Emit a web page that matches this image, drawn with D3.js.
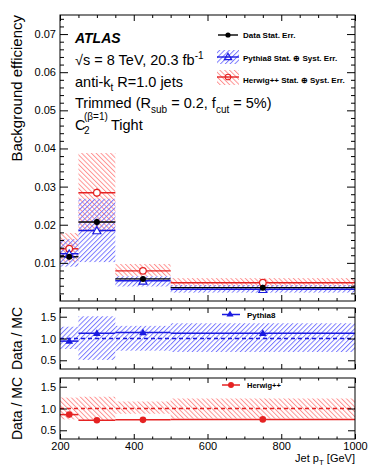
<!DOCTYPE html>
<meta charset="utf-8">
<script src="https://d3js.org/d3.v7.min.js"></script>
<style>
body { margin: 0; background: #fff; }
text { font-family: "Liberation Sans", Arial, Helvetica, sans-serif; fill: #000; }
.tick line { stroke: #000; }
</style>
<body>
<div id="canvas"></div>
<script>

// bins in jet pT [GeV]
var binLo = [200, 250, 350, 500];
var binHi = [250, 350, 500, 1000];
var binMid = [225, 300, 425, 750];

// background efficiency
var dataEff = [0.0116, 0.0207, 0.0058, 0.0035];
var dataErr = [0.0007, 0.0009, 0.0004, 0.0002];
var pythiaEff = [0.0124, 0.0185, 0.0053, 0.0031];
var pythiaStat = [0.0004, 0.0006, 0.0002, 0.0001];
var pythiaLo = [0.0090, 0.0102, 0.0038, 0.0022];
var pythiaHi = [0.0162, 0.0268, 0.0065, 0.0042];
var herwigEff = [0.0137, 0.0284, 0.0079, 0.0048];
var herwigStat = [0.0006, 0.0011, 0.0003, 0.0002];
var herwigLo = [0.0102, 0.0182, 0.0066, 0.0039];
var herwigHi = [0.0178, 0.0388, 0.0097, 0.0060];

// data / MC
var ratioPythia = [0.94, 1.12, 1.14, 1.12];
var ratioPythiaLo = [0.76, 0.51, 0.72, 0.69];
var ratioPythiaHi = [1.27, 1.51, 1.29, 1.35];
var ratioHerwig = [0.86, 0.73, 0.74, 0.75];
var ratioHerwigLo = [0.75, 0.73, 0.88, 0.77];
var ratioHerwigHi = [1.25, 1.27, 1.16, 1.23];

// tick values
var mainTicks = [0.01, 0.02, 0.03, 0.04, 0.05, 0.06, 0.07];
var ratioTicks = [0.5, 1, 1.5];
var xTicks = [200, 400, 600, 800, 1000];

var width = 374, height = 468;
var blue = "#1a1ae0", red = "#e52222";

var svg = d3.select('#canvas').append('svg')
    .attr('width', width).attr('height', height);

// hatch patterns
var defs = svg.append('defs');
function hatch(id, color, angle) {
  var p = defs.append('pattern').attr('id', id)
      .attr('patternUnits', 'userSpaceOnUse')
      .attr('width', 3.4).attr('height', 3.4)
      .attr('patternTransform', 'rotate(' + angle + ')');
  p.append('line').attr('x1', 0.5).attr('x2', 0.5).attr('y1', 0).attr('y2', 3.4)
      .attr('stroke', color).attr('stroke-width', 0.9);
}
hatch('hBlue', '#6d6dff', 45);
hatch('hRed', '#ff8888', -45);

var left = 60, right = 355;
var x = d3.scaleLinear().domain([200, 1000]).range([left, right]);
var yMain = d3.scaleLinear().domain([0, 0.075]).range([301, 15]);
var yR1 = d3.scaleLinear().domain([0.3, 1.7]).range([369, 308]);
var yR2 = d3.scaleLinear().domain([0.3, 1.7]).range([439, 378]);

var xMinor = d3.range(250, 1000, 50).filter(function(v) { return v % 200 != 0; });

// frame with inward ticks on all four sides
function frame(y, majors, minors, yMaj, xMaj, fontSize) {
  var g = svg.append('g');
  var top = y.range()[1], bot = y.range()[0];
  function add(axis, tx, ty, labels) {
    var a = g.append('g').attr('transform', 'translate(' + tx + ',' + ty + ')').call(axis);
    a.select('.domain').remove();
    if (!labels) a.selectAll('text').remove();
    return a;
  }
  var la = add(d3.axisLeft(y).tickValues(majors).tickSize(-yMaj).tickPadding(4), left, 0, true);
  la.selectAll('text').style('font-size', fontSize + 'px');
  add(d3.axisRight(y).tickValues(majors).tickSize(-yMaj), right, 0, false);
  if (minors.length) {
    add(d3.axisLeft(y).tickValues(minors).tickSize(-yMaj / 2), left, 0, false);
    add(d3.axisRight(y).tickValues(minors).tickSize(-yMaj / 2), right, 0, false);
  }
  add(d3.axisBottom(x).tickValues(xTicks).tickSize(-xMaj), 0, bot, false);
  add(d3.axisBottom(x).tickValues(xMinor).tickSize(-xMaj / 2), 0, bot, false);
  add(d3.axisTop(x).tickValues(xTicks).tickSize(-xMaj), 0, top, false);
  add(d3.axisTop(x).tickValues(xMinor).tickSize(-xMaj / 2), 0, top, false);
  g.append('rect').attr('x', left).attr('y', top)
      .attr('width', right - left).attr('height', bot - top)
      .attr('fill', 'none').attr('stroke', '#000').attr('stroke-width', 1);
  return g;
}

var bins = d3.range(binLo.length);

// ---------- main panel ----------
var main = svg.append('g');
function band(g, lo, hi, y, pat) {
  g.selectAll(null).data(bins).enter().append('rect')
    .attr('x', function(i) { return x(binLo[i]); })
    .attr('width', function(i) { return x(binHi[i]) - x(binLo[i]); })
    .attr('y', function(i) { return y(hi[i]); })
    .attr('height', function(i) { return y(lo[i]) - y(hi[i]); })
    .attr('fill', 'url(#' + pat + ')');
}
band(main, herwigLo, herwigHi, yMain, 'hRed');
band(main, pythiaLo, pythiaHi, yMain, 'hBlue');

function steps(g, vals, errs, y, color, w) {
  g.selectAll(null).data(bins).enter().append('line')
    .attr('x1', function(i) { return x(binLo[i]); })
    .attr('x2', function(i) { return x(binHi[i]); })
    .attr('y1', function(i) { return y(vals[i]); })
    .attr('y2', function(i) { return y(vals[i]); })
    .attr('stroke', color).attr('stroke-width', w);
  if (errs) g.selectAll(null).data(bins).enter().append('line')
    .attr('x1', function(i) { return x(binMid[i]); })
    .attr('x2', function(i) { return x(binMid[i]); })
    .attr('y1', function(i) { return y(vals[i] - errs[i]); })
    .attr('y2', function(i) { return y(vals[i] + errs[i]); })
    .attr('stroke', color).attr('stroke-width', w);
}
steps(main, herwigEff, herwigStat, yMain, red, 1.4);
steps(main, pythiaEff, pythiaStat, yMain, blue, 1.4);
steps(main, dataEff, dataErr, yMain, '#000', 1.4);

var tri = d3.symbol().type(d3.symbolTriangle);
main.selectAll(null).data(bins).enter().append('circle')
  .attr('cx', function(i) { return x(binMid[i]); })
  .attr('cy', function(i) { return yMain(herwigEff[i]); })
  .attr('r', 3.3).attr('fill', '#fff').attr('stroke', red).attr('stroke-width', 1.2);
main.selectAll(null).data(bins).enter().append('path')
  .attr('d', tri.size(28)())
  .attr('transform', function(i) { return 'translate(' + x(binMid[i]) + ',' + (yMain(pythiaEff[i]) + 1) + ')'; })
  .attr('fill', '#fff').attr('stroke', blue).attr('stroke-width', 1.2);
main.selectAll(null).data(bins).enter().append('circle')
  .attr('cx', function(i) { return x(binMid[i]); })
  .attr('cy', function(i) { return yMain(dataEff[i]); })
  .attr('r', 3).attr('fill', '#000');

frame(yMain, mainTicks, d3.range(0.002, 0.075, 0.002).filter(function(v) { return Math.abs(v * 100 - Math.round(v * 100)) > 1e-6; }), 8, 6, 11);

// labels in main panel
var tx = 75;
svg.append('text').attr('x', tx).attr('y', 43).text('ATLAS')
  .style('font-size', '14px').style('font-weight', 'bold').style('font-style', 'italic');
var t1 = svg.append('text').attr('x', tx).attr('y', 65).style('font-size', '14.5px');
t1.append('tspan').text('\u221As = 8 TeV, 20.3 fb');
t1.append('tspan').attr('dy', -6).style('font-size', '10px').text('-1');
var t2 = svg.append('text').attr('x', tx).attr('y', 87).style('font-size', '14.5px');
t2.append('tspan').text('anti-k');
t2.append('tspan').attr('dy', 4).style('font-size', '10px').text('t');
t2.append('tspan').attr('dy', -4).text(' R=1.0 jets');
var t3 = svg.append('text').attr('x', tx).attr('y', 108).style('font-size', '14.5px');
t3.append('tspan').text('Trimmed (R');
t3.append('tspan').attr('dy', 5).style('font-size', '10px').text('sub');
t3.append('tspan').attr('dy', -5).text(' = 0.2, f');
t3.append('tspan').attr('dy', 5).style('font-size', '10px').text('cut');
t3.append('tspan').attr('dy', -5).text(' = 5%)');
svg.append('text').attr('x', tx).attr('y', 130).style('font-size', '14.5px').text('C');
svg.append('text').attr('x', 84).attr('y', 120).style('font-size', '10px').text('(\u03B2=1)');
svg.append('text').attr('x', 84).attr('y', 134).style('font-size', '10px').text('2');
svg.append('text').attr('x', 111).attr('y', 130).style('font-size', '14.5px').text('Tight');

// legend
var lg = svg.append('g').style('font-size', '8px').style('font-weight', 'bold');
lg.append('line').attr('x1', 218).attr('x2', 238).attr('y1', 35).attr('y2', 35).attr('stroke', '#000').attr('stroke-width', 1.4);
lg.append('circle').attr('cx', 228).attr('cy', 35).attr('r', 2.6).attr('fill', '#000');
lg.append('text').attr('x', 243).attr('y', 38).text('Data Stat. Err.');
lg.append('rect').attr('x', 217).attr('y', 50).attr('width', 22).attr('height', 14).attr('fill', 'url(#hBlue)');
lg.append('line').attr('x1', 217).attr('x2', 239).attr('y1', 57).attr('y2', 57).attr('stroke', blue).attr('stroke-width', 1.4);
lg.append('path').attr('d', tri.size(24)()).attr('transform', 'translate(228,57.5)').attr('fill', 'none').attr('stroke', blue).attr('stroke-width', 1.1);
lg.append('text').attr('x', 243).attr('y', 61).text('Pythia8 Stat. \u2295 Syst. Err.');
lg.append('rect').attr('x', 217).attr('y', 70).attr('width', 22).attr('height', 15).attr('fill', 'url(#hRed)');
lg.append('line').attr('x1', 217).attr('x2', 239).attr('y1', 77).attr('y2', 77).attr('stroke', red).attr('stroke-width', 1.4);
lg.append('circle').attr('cx', 228).attr('cy', 77).attr('r', 2.8).attr('fill', 'none').attr('stroke', red).attr('stroke-width', 1.1);
lg.append('text').attr('x', 243).attr('y', 83).text('Herwig++ Stat. \u2295 Syst. Err.');

// ---------- ratio panels ----------
function ratioPanel(y, lo, hi, vals, pat, color, marker, name, legY, legFs) {
  var g = svg.append('g');
  band(g, lo, hi, y, pat);
  g.append('line').attr('x1', left).attr('x2', right).attr('y1', y(1)).attr('y2', y(1))
    .attr('stroke', color).attr('stroke-width', 1.5).attr('stroke-dasharray', '4,3');
  steps(g, vals, null, y, color, 1.5);
  if (marker == 'tri') {
    g.selectAll(null).data(bins).enter().append('path')
      .attr('d', tri.size(26)())
      .attr('transform', function(i) { return 'translate(' + x(binMid[i]) + ',' + (y(vals[i]) + 0.5) + ')'; })
      .attr('fill', color);
  } else {
    g.selectAll(null).data(bins).enter().append('circle')
      .attr('cx', function(i) { return x(binMid[i]); })
      .attr('cy', function(i) { return y(vals[i]); })
      .attr('r', 3.3).attr('fill', color);
  }
  frame(y, ratioTicks, [], 7, 5, 11);
  g.append('line').attr('x1', 222).attr('x2', 240).attr('y1', legY).attr('y2', legY)
    .attr('stroke', color).attr('stroke-width', 1.5);
  if (marker == 'tri') g.append('path').attr('d', tri.size(22)()).attr('transform', 'translate(230,' + legY + ')').attr('fill', color);
  else g.append('circle').attr('cx', 231).attr('cy', legY).attr('r', 3).attr('fill', color);
  svg.append('text').attr('x', 247).attr('y', legY + 3).text(name)
    .style('font-size', legFs + 'px').style('font-weight', 'bold');
}
ratioPanel(yR1, ratioPythiaLo, ratioPythiaHi, ratioPythia, 'hBlue', blue, 'tri', 'Pythia8', 314.5, 8);
ratioPanel(yR2, ratioHerwigLo, ratioHerwigHi, ratioHerwig, 'hRed', red, 'dot', 'Herwig++', 385, 7.5);

// x tick labels
svg.append('g').attr('transform', 'translate(0,439)')
  .call(d3.axisBottom(x).tickValues(xTicks).tickSize(0).tickPadding(3).tickFormat(d3.format('d')))
  .call(function(a) { a.select('.domain').remove(); a.selectAll('text').style('font-size', '11px'); });

// axis titles
var xt = svg.append('text').attr('x', 355).attr('y', 462).attr('text-anchor', 'end').style('font-size', '11px');
xt.append('tspan').text('Jet p');
xt.append('tspan').attr('dy', 3).style('font-size', '8px').text('T');
xt.append('tspan').attr('dy', -3).text(' [GeV]');
svg.append('text').attr('transform', 'translate(22,15) rotate(-90)').attr('text-anchor', 'end')
  .style('font-size', '15px').text('Background efficiency');
svg.append('text').attr('transform', 'translate(22,' + yR1(1) + ') rotate(-90)').attr('text-anchor', 'middle')
  .style('font-size', '14px').text('Data / MC');
svg.append('text').attr('transform', 'translate(22,' + yR2(1) + ') rotate(-90)').attr('text-anchor', 'middle')
  .style('font-size', '14px').text('Data / MC');

</script>
</body>
